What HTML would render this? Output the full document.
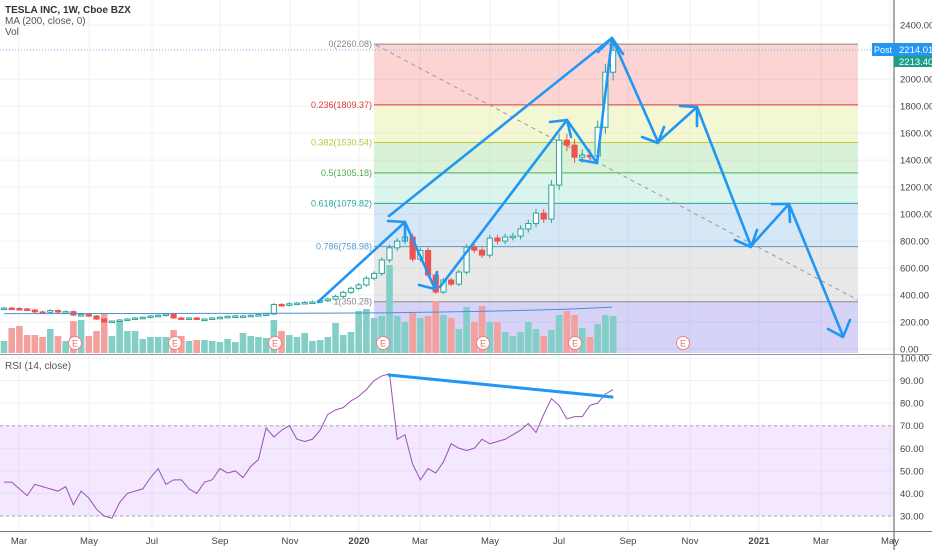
<!DOCTYPE html>
<html><head><meta charset="utf-8">
<style>
html,body{margin:0;padding:0;background:#fff;}
body{width:932px;height:550px;overflow:hidden;font-family:"Liberation Sans",sans-serif;}
svg text{font-family:"Liberation Sans",sans-serif;}
</style></head>
<body>
<svg id="chart" width="932" height="550" xmlns="http://www.w3.org/2000/svg">
<g id="grid"></g>
<g id="fib"></g>
<g id="vol"></g>
<g id="candles"></g>
<g id="ma"></g>
<g id="draw"></g>
<g id="rsi"></g>
<g id="axes"></g>
<text x="5" y="13" font-size="10" fill="#333" font-weight="bold">TESLA INC, 1W, Cboe BZX</text>
<text x="5" y="24" font-size="10" fill="#555">MA (200, close, 0)</text>
<text x="5" y="35" font-size="10" fill="#555">Vol</text>
<text x="5" y="369" font-size="10" fill="#555">RSI (14, close)</text>
</svg>
<script>
const closes=[303,300,297,289,275,272,285,275,277,252,255,245,222,200,207,215,222,230,235,245,250,259,230,228,230,222,222,230,235,242,245,245,250,255,260,330,326,335,340,345,348,358,370,
390,420,450,475,525,560,660,750,800,830,667,730,548,422,511,481,570,755,733,696,822,800,830,837,890,930,1007,963,1215,1548,1511,1422,1437,1430,1644,2052,2214];
const volumes=[12,25,27,18,18,16,24,17,12,32,33,17,22,40,17,32,22,22,14,16,16,16,23,17,12,13,13,12,11,14,11,20,17,16,15,33,22,18,16,20,12,13,16,30,18,21,42,44,35,37,88,37,31,40,35,37,52,38,
35,24,46,31,47,31,31,21,17,21,31,24,17,23,38,42,38,25,16,29,38,37];
const rsiValues=[45,45,42,39,44,43,42,41,43,35,41,38,33,30,29,36,40,41,42,47,51,44,46,46,42,40,45,46,51,49,50,47,52,55,69,65,68,70,64,63,64,68,75,77,78,81,83,86,90,92,93,64,66,53,46,51,49,54,62,60,59,60,64,62,63,64,66,68,71,67,75,82,79,73,74,74,79,80,84,86];
const priceTicks=[0,200,400,600,800,1000,1200,1400,1600,1800,2000,2400];
const rsiTicks=[30,40,50,60,70,80,90,100];
const timeLabels=["Mar","May","Jul","Sep","Nov","2020","Mar","May","Jul","Sep","Nov","2021","Mar","May"];
const timeLabelX=[19,89,152,220,290,359,420,490,559,628,690,759,821,890];
const fibRatios=[0,0.236,0.382,0.5,0.618,0.786,1];
const fibHigh=2260.08, fibLow=350.28;
const maValues=[262,262,263,263,264,264,265,266,268,272,278,285,295,310];

const NS="http://www.w3.org/2000/svg";
function el(tag,attrs,parent,txt){const e=document.createElementNS(NS,tag);for(const k in attrs)e.setAttribute(k,attrs[k]);if(txt!==undefined)e.textContent=txt;parent.appendChild(e);return e;}
const py=p=>349-p*0.1349;
const bx=i=>4+i*7.71;
const ry=v=>358+(100-v)*2.257;
const vy=v=>353-v;
const G=id=>document.getElementById(id);

// grid
const grid=G('grid');
timeLabelX.forEach(x=>{const l=el('line',{x1:x,y1:0,x2:x,y2:532,stroke:'#eef1f6','stroke-width':1},grid);

});
priceTicks.forEach(p=>{const l=el('line',{x1:0,y1:py(p),x2:894,y2:py(p),stroke:'#eef1f6'},grid);

});
rsiTicks.forEach(v=>{const l=el('line',{x1:0,y1:ry(v),x2:894,y2:ry(v),stroke:'#eef1f6'},grid);

});

// fib
const fib=G('fib');
const fx1=374,fx2=858;
const fibFill=['rgba(239,83,80,0.25)','rgba(220,230,110,0.3)','rgba(120,210,110,0.28)','rgba(90,210,170,0.22)','rgba(90,160,220,0.25)','rgba(180,180,180,0.3)'];
const fibLine=['#888','#e53935','#b8c93a','#4caf50','#26a69a','#5b9bc8','#888'];
const fibPrice=r=>fibHigh-(fibHigh-fibLow)*r;
for(let k=0;k<6;k++){const r=el('rect',{x:fx1,y:py(fibPrice(fibRatios[k])),width:fx2-fx1,height:py(fibPrice(fibRatios[k+1]))-py(fibPrice(fibRatios[k])),fill:fibFill[k]},fib);

}
const pb=el('rect',{x:fx1,y:py(fibLow),width:fx2-fx1,height:353-py(fibLow),fill:'rgba(120,110,230,0.3)'},fib);


fibRatios.forEach((r,k)=>{const y=py(fibPrice(r));
const l=el('line',{x1:fx1,y1:y,x2:fx2,y2:y,stroke:fibLine[k],'stroke-width':1},fib);


const t=el('text',{x:372,y:y+3,'font-size':9,fill:fibLine[k],'text-anchor':'end'},fib,r+'('+fibPrice(r).toFixed(2)+')');

});
const dg=el('line',{x1:376,y1:45,x2:858,y2:300,stroke:'#999','stroke-width':1,'stroke-dasharray':'4 4'},fib);



// volume & candles
const vol=G('vol'),cg=G('candles');
closes.forEach((c,i)=>{const o=i?closes[i-1]:c;const up=c>=o;const x=bx(i);
const vb=el('rect',{x:x-3.3,y:vy(volumes[i]),width:6.6,height:volumes[i],fill:up?'#83cfc7':'#f3a19e'},vol);


const hi=Math.max(o,c)*1.03,lo=Math.min(o,c)*0.97;const col=up?'#26a69a':'#ef5350';
const w=el('line',{x1:x,y1:py(hi),x2:x,y2:py(lo),stroke:col,'stroke-width':1},cg);


const h=Math.max(1.5,Math.abs(py(o)-py(c)));
const b=el('rect',{x:x-2.6,y:Math.min(py(o),py(c)),width:5.2,height:h,fill:up?'#fff':col,stroke:col,'stroke-width':1},cg);

});

// MA
const ma=G('ma');
let pts=maValues.map((v,k)=>[4+k*(608/(maValues.length-1)),v]).map(([x,v])=>x+','+py(v)).join(' ');
const mal=el('polyline',{points:pts,fill:'none',stroke:'#4a90d9','stroke-width':1},ma);



// earnings markers
[75,175,275,383,483,575,683].forEach(x=>{const g=el('g',{},vol);


el('circle',{cx:x,cy:343,r:6.5,fill:'#fff',stroke:'#f08080','stroke-width':1},g);
el('text',{x:x,y:346.5,'font-size':9,fill:'#e57373','text-anchor':'middle'},g,'E');});

// drawings
const dr=G('draw');
const arrows=[
[[318,302],[405,222],[[388,221],[405,222],[405,240]]],
[[389,216],[612,38],[[598,52],[612,38],[623,54]]],
[[405,222],[435,289],[[419,285],[435,289],[437,272]]],
[[440,287],[567,120],[[550,122],[567,120],[571,137]]],
[[567,120],[597,163],[[580,160],[597,163]]],
[[597,163],[612,38],[]],
[[612,38],[658,142],[[642,137],[658,143],[664,127]]],
[[658,142],[697,107],[[680,106],[697,107],[697,126]]],
[[697,107],[751,246],[[735,240],[751,247],[757,230]]],
[[751,246],[789,204],[[772,204],[789,204],[790,222]]],
[[789,204],[843,336],[[828,329],[843,337],[850,320]]]];
arrows.forEach(a=>{const l=el('line',{x1:a[0][0],y1:a[0][1],x2:a[1][0],y2:a[1][1],stroke:'#2196f3','stroke-width':2.6,'stroke-linecap':'round'},dr);


if(a[2].length){const h=el('polyline',{points:a[2].map(p=>p.join(',')).join(' '),fill:'none',stroke:'#2196f3','stroke-width':2.6,'stroke-linecap':'round','stroke-linejoin':'round'},dr);

}});

// price line
const pl=el('line',{x1:0,y1:50,x2:894,y2:50,stroke:'#7bb0e8','stroke-dasharray':'1 2'},dr);



// RSI
const rg=G('rsi');
const band=el('rect',{x:0,y:ry(70),width:894,height:ry(30)-ry(70),fill:'rgba(200,150,250,0.22)'},rg);


[70,30].forEach(v=>{const l=el('line',{x1:0,y1:ry(v),x2:894,y2:ry(v),stroke:'#aaa','stroke-dasharray':'3 3'},rg);

});
const rp=rsiValues.map((v,i)=>bx(i)+','+ry(v)).join(' ');
const rl=el('polyline',{points:rp,fill:'none',stroke:'#9c4fb8','stroke-width':1},rg);


const rt=el('line',{x1:389,y1:375,x2:612,y2:397,stroke:'#2196f3','stroke-width':3,'stroke-linecap':'round'},rg);



// axes
const ax=G('axes');
el('line',{x1:894,y1:0,x2:894,y2:550,stroke:'#555'},ax);
const s1=el('line',{x1:0,y1:354.5,x2:932,y2:354.5,stroke:'#999'},ax);


el('line',{x1:0,y1:531.5,x2:932,y2:531.5,stroke:'#777'},ax);
priceTicks.forEach(p=>{const t=el('text',{x:900,y:py(p)+3.5,'font-size':9.5,fill:'#444'},ax,p.toFixed(2));

});
rsiTicks.forEach(v=>{const t=el('text',{x:900,y:ry(v)+3.5,'font-size':9.5,fill:'#444'},ax,v.toFixed(2));

});
timeLabels.forEach((s,k)=>{const t=el('text',{x:timeLabelX[k],y:544,'font-size':9.5,fill:'#444','text-anchor':'middle','font-weight':(s.length===4?'bold':'normal')},ax,s);

});
// price badges
const post=el('rect',{x:872,y:43,width:22,height:13,fill:'#2196f3'},ax);


el('text',{x:883,y:53,'font-size':9,fill:'#fff','text-anchor':'middle'},ax,'Post');
const b1=el('rect',{x:894,y:43,width:38,height:13,fill:'#2196f3'},ax);


el('text',{x:899,y:53,'font-size':9.5,fill:'#fff'},ax,'2214.01');
const b2=el('rect',{x:894,y:56,width:38,height:11,fill:'#1e9e8c'},ax);


el('text',{x:899,y:65,'font-size':9.5,fill:'#fff'},ax,'2213.40');
</script>
</body></html>
